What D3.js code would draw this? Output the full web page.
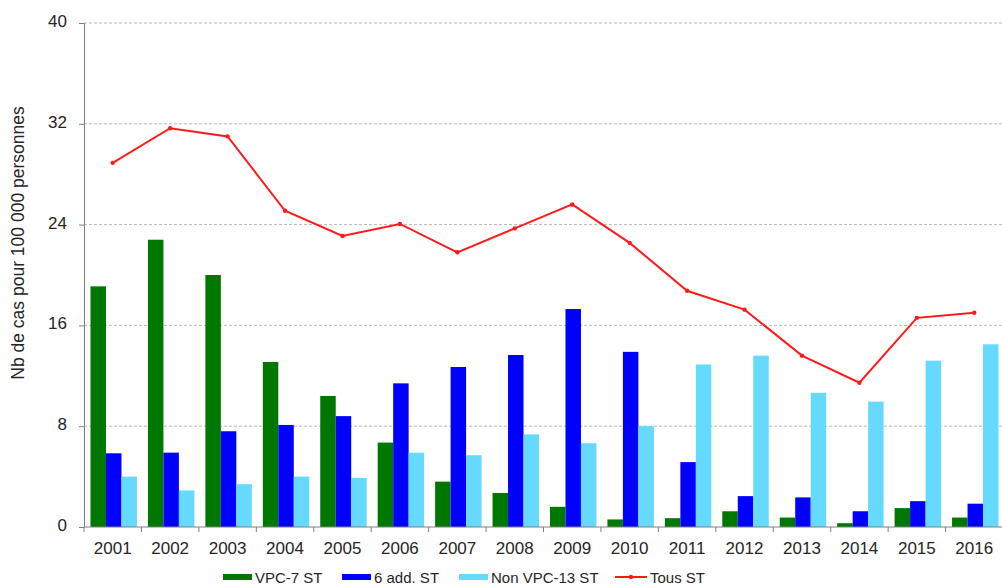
<!DOCTYPE html>
<html>
<head>
<meta charset="utf-8">
<script src="https://cdn.jsdelivr.net/npm/d3@7"></script>
<style>
  body { margin: 0; background: #fff; }
  svg { display: block; font-family: "Liberation Sans", Arial, sans-serif; }
</style>
</head>
<body>
<svg id="chart" width="1002" height="584"></svg>
<script>
// Data
const years = ["2001","2002","2003","2004","2005","2006","2007","2008","2009","2010","2011","2012","2013","2014","2015","2016"];
const vpc7 = [19.1, 22.8, 20.0, 13.1, 10.4, 6.7, 3.6, 2.7, 1.6, 0.6, 0.7, 1.25, 0.75, 0.3, 1.5, 0.75];
const add6 = [5.85, 5.9, 7.6, 8.1, 8.8, 11.4, 12.7, 13.65, 17.3, 13.9, 5.15, 2.45, 2.35, 1.25, 2.05, 1.85];
const nonVpc13 = [4.0, 2.9, 3.4, 4.0, 3.9, 5.9, 5.7, 7.35, 6.65, 8.0, 12.9, 13.6, 10.65, 9.95, 13.2, 14.5];
const tous = [28.9, 31.65, 31.0, 25.1, 23.1, 24.05, 21.8, 23.7, 25.6, 22.55, 18.75, 17.25, 13.6, 11.45, 16.6, 17.0];
const yTicks = [0, 8, 16, 24, 32, 40];

const series = [
  { name: "VPC-7 ST", values: vpc7, color: "#007800" },
  { name: "6 add. ST", values: add6, color: "#0000ff" },
  { name: "Non VPC-13 ST", values: nonVpc13, color: "#66d9ff" }
];

const margin = { top: 23, right: -1, bottom: 57, left: 84 };
const width = 1002 - margin.left - margin.right;
const height = 584 - margin.top - margin.bottom;

const svg = d3.select("#chart");
const g = svg.append("g").attr("transform", `translate(${margin.left},${margin.top})`);

const x = d3.scaleBand().domain(years).range([0, width]);
const x1 = d3.scaleBand().domain(series.map(s => s.name))
    .range([6.5, x.bandwidth() - 4.5]);
const y = d3.scaleLinear().domain([0, 40]).range([height, 0]);

// Gridlines
g.selectAll(".grid")
    .data(yTicks.filter(d => d > 0))
    .enter().append("line")
    .attr("x1", 0).attr("x2", width)
    .attr("y1", d => y(d)).attr("y2", d => y(d))
    .attr("stroke", "#b8b8b8")
    .attr("stroke-dasharray", "3,2");

// Bars
const groups = g.selectAll(".year")
    .data(years)
    .enter().append("g")
    .attr("transform", d => `translate(${x(d)},0)`);

groups.selectAll("rect")
    .data((d, i) => series.map(s => ({ name: s.name, value: s.values[i], color: s.color })))
    .enter().append("rect")
    .attr("x", d => x1(d.name))
    .attr("width", x1.bandwidth())
    .attr("y", d => y(d.value))
    .attr("height", d => y(0) - y(d.value))
    .attr("fill", d => d.color);

// Y axis
const yAxis = g.append("g")
    .call(d3.axisLeft(y).tickValues(yTicks).tickSize(5).tickPadding(12));
yAxis.select(".domain").attr("stroke", "#808080");
yAxis.selectAll(".tick line").attr("stroke", "#808080");
yAxis.selectAll("text").attr("fill", "#262626").attr("dy", "0.2em").style("font-size", "17px");

// X axis with ticks at band boundaries
const xAxis = g.append("g").attr("transform", `translate(0,${height})`);
xAxis.append("line").attr("x1", 0).attr("x2", width).attr("stroke", "#808080");
xAxis.selectAll(".xt")
    .data(years)
    .enter().append("line")
    .attr("x1", d => x(d)).attr("x2", d => x(d))
    .attr("y1", 0).attr("y2", 5)
    .attr("stroke", "#808080");
xAxis.selectAll(".xl")
    .data(years)
    .enter().append("text")
    .attr("x", d => x(d) + x.bandwidth() / 2)
    .attr("y", 27)
    .attr("text-anchor", "middle")
    .attr("fill", "#262626")
    .style("font-size", "17px")
    .text(d => d);

// Line "Tous ST"
const line = d3.line()
    .x((d, i) => x(years[i]) + x.bandwidth() / 2)
    .y(d => y(d));
g.append("path")
    .datum(tous)
    .attr("d", line)
    .attr("fill", "none")
    .attr("stroke", "#ff1a1a")
    .attr("stroke-width", 2);
g.selectAll(".pt")
    .data(tous)
    .enter().append("circle")
    .attr("cx", (d, i) => x(years[i]) + x.bandwidth() / 2)
    .attr("cy", d => y(d))
    .attr("r", 2.2)
    .attr("fill", "#ff1a1a");

// Y title
svg.append("text")
    .attr("transform", "translate(24,243) rotate(-90)")
    .attr("text-anchor", "middle")
    .attr("fill", "#262626")
    .style("font-size", "17.5px")
    .text("Nb de cas pour 100 000 personnes");

// Legend
const legendX = [223, 342, 459, 615];
const legend = svg.append("g").attr("transform", "translate(0,577)");
series.forEach((s, i) => {
  legend.append("rect")
      .attr("x", legendX[i]).attr("y", -3)
      .attr("width", 29).attr("height", 6)
      .attr("fill", s.color);
  legend.append("text")
      .attr("x", legendX[i] + 32).attr("y", 5.5)
      .attr("fill", "#262626")
      .style("font-size", "15px")
      .text(s.name);
});
legend.append("line")
    .attr("x1", legendX[3]).attr("x2", legendX[3] + 32)
    .attr("stroke", "#ff1a1a").attr("stroke-width", 2);
legend.append("circle")
    .attr("cx", legendX[3] + 16).attr("r", 2.2).attr("fill", "#ff1a1a");
legend.append("text")
    .attr("x", legendX[3] + 35).attr("y", 5.5)
    .attr("fill", "#262626")
    .style("font-size", "15px")
    .text("Tous ST");
</script>
</body>
</html>
